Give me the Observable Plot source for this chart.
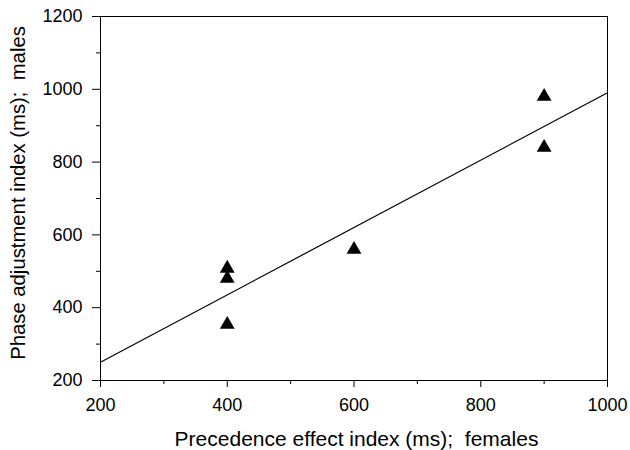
<!DOCTYPE html>
<html>
<head>
<meta charset="utf-8">
<script src="https://cdn.jsdelivr.net/npm/d3@7"></script>
<script src="https://cdn.jsdelivr.net/npm/@observablehq/plot@0.6"></script>
<style>
  body { margin: 0; background: #fff; }
  #chart svg { font-family: "Liberation Sans", Arial, Helvetica, sans-serif; }
</style>
</head>
<body>
<div id="chart"></div>
<script>
// Data
const femaleIndex = [400, 400, 400, 600, 900, 900];
const maleIndex   = [508, 480, 354, 560, 980, 840];
const xMajorTicks = [200, 400, 600, 800, 1000];
const xMinorTicks = [300, 500, 700, 900];
const yMajorTicks = [200, 400, 600, 800, 1000, 1200];
const yMinorTicks = [300, 500, 700, 900, 1100];
const xLabel = "Precedence effect index (ms);\u00a0 females";
const yLabel = "Phase adjustment index (ms);\u00a0 males";

const points = femaleIndex.map((x, i) => ({x, y: maleIndex[i]}));

// least-squares fit, drawn across the full x domain
const mx = d3.mean(femaleIndex), my = d3.mean(maleIndex);
const slope = d3.sum(points, d => (d.x - mx) * (d.y - my)) / d3.sum(points, d => (d.x - mx) ** 2);
const intercept = my - slope * mx;
const xDomain = [200, 1000];
const fitLine = xDomain.map(x => ({x, y: intercept + slope * x}));

const chart = Plot.plot({
  width: 630,
  height: 450,
  marginLeft: 100,
  marginRight: 23,
  marginTop: 16,
  marginBottom: 70,
  style: {fontSize: "18px", fontFamily: "Liberation Sans, Arial, sans-serif", color: "#000"},
  x: {domain: xDomain},
  y: {domain: [200, 1200]},
  marks: [
    Plot.frame({stroke: "#000", strokeWidth: 1}),
    Plot.axisX({ticks: xMajorTicks, tickSize: 7, tickPadding: 11, tickFormat: d => String(d), fontSize: 18, label: null}),
    Plot.axisX({ticks: [], label: xLabel, fontSize: 21, labelAnchor: "center", labelOffset: 65, labelArrow: "none"}),
    Plot.axisX({ticks: xMinorTicks, tickSize: 4, text: null, label: null}),
    Plot.axisY({ticks: yMajorTicks, tickSize: 8, tickPadding: 10, tickFormat: d => String(d), fontSize: 18, label: null}),
    Plot.axisY({ticks: [], label: yLabel, fontSize: 20.3, labelAnchor: "center", labelOffset: 90, labelArrow: "none"}),
    Plot.axisY({ticks: yMinorTicks, tickSize: 4, text: null, label: null}),
    Plot.line(fitLine, {x: "x", y: "y", stroke: "#000", strokeWidth: 1.2}),
    Plot.dot(points, {x: "x", y: "y", symbol: "triangle", r: 5.5, fill: "#000", stroke: "none"})
  ]
});
document.getElementById("chart").appendChild(chart);
// fine placement of the two axis titles
chart.querySelectorAll("g[aria-label='y-axis label'] text").forEach(t => t.setAttribute("dx", "5.5"));
chart.querySelectorAll("g[aria-label='x-axis label'] text").forEach(t => t.setAttribute("dx", "2.5"));
</script>
</body>
</html>
